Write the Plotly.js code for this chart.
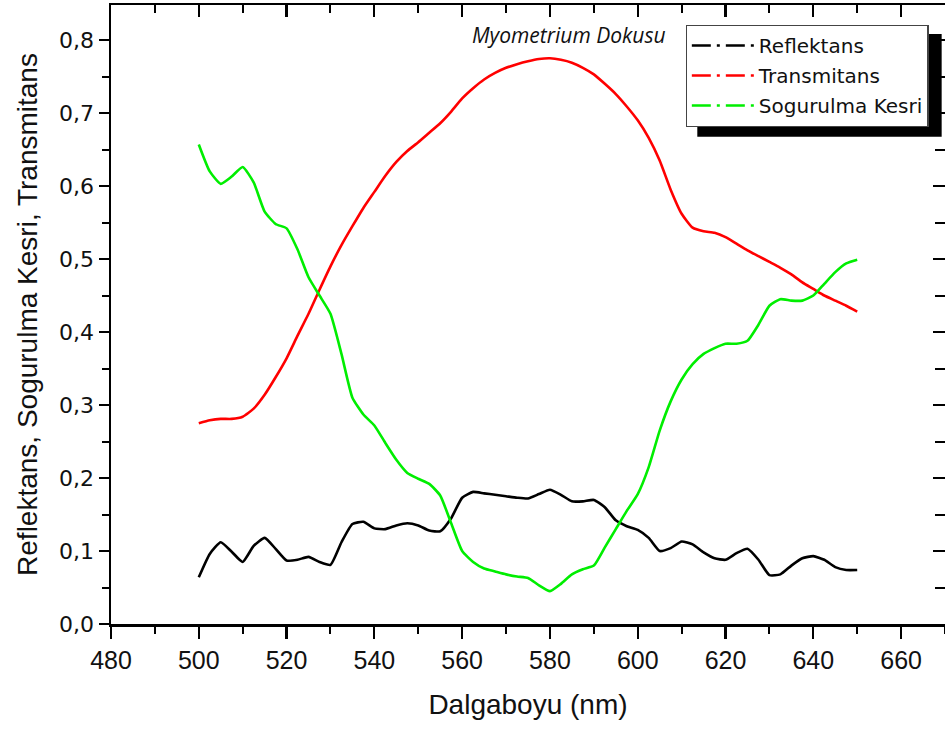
<!DOCTYPE html>
<html>
<head>
<meta charset="utf-8">
<script src="https://cdn.plot.ly/plotly-3.0.1.min.js"></script>
<style>html,body{margin:0;padding:0;background:#fff;}#chart{width:945px;height:734px;}</style>
</head>
<body>
<div id="chart"></div>
<script>
// Wavelength grid (nm)
const wavelength = [500,502.5,505,507.5,510,512.5,515,517.5,520,522.5,525,527.5,530,532.5,535,537.5,540,542.5,545,547.5,550,552.5,555,557.5,560,562.5,565,567.5,570,572.5,575,577.5,580,582.5,585,587.5,590,592.5,595,597.5,600,602.5,605,607.5,610,612.5,615,617.5,620,622.5,625,627.5,630,632.5,635,637.5,640,642.5,645,647.5,650];

const reflektans = [0.064,0.096,0.112,0.099,0.085,0.107,0.118,0.103,0.087,0.088,0.092,0.085,0.081,0.112,0.137,0.140,0.131,0.130,0.135,0.138,0.135,0.128,0.127,0.145,0.173,0.181,0.179,0.177,0.175,0.173,0.172,0.178,0.184,0.177,0.168,0.168,0.170,0.160,0.142,0.134,0.129,0.118,0.100,0.104,0.113,0.109,0.098,0.090,0.088,0.097,0.103,0.088,0.067,0.068,0.080,0.090,0.093,0.088,0.078,0.074,0.074];

const transmitans = [0.275,0.279,0.281,0.281,0.284,0.295,0.314,0.338,0.364,0.395,0.425,0.458,0.490,0.519,0.545,0.570,0.592,0.614,0.633,0.648,0.660,0.673,0.686,0.702,0.720,0.734,0.746,0.755,0.762,0.767,0.771,0.774,0.775,0.773,0.769,0.762,0.753,0.740,0.726,0.709,0.690,0.666,0.635,0.595,0.562,0.543,0.538,0.536,0.530,0.521,0.512,0.504,0.496,0.488,0.479,0.468,0.459,0.450,0.443,0.436,0.428];

const sogurulma = [0.657,0.620,0.603,0.613,0.626,0.605,0.565,0.548,0.542,0.513,0.475,0.450,0.425,0.370,0.310,0.287,0.272,0.248,0.225,0.207,0.199,0.192,0.176,0.138,0.100,0.085,0.076,0.072,0.068,0.065,0.063,0.053,0.045,0.055,0.068,0.075,0.080,0.105,0.130,0.155,0.178,0.215,0.265,0.305,0.335,0.356,0.370,0.378,0.384,0.384,0.388,0.410,0.436,0.445,0.443,0.443,0.450,0.466,0.482,0.494,0.499];

const seriesNames = ["Reflektans", "Transmitans", "Sogurulma Kesri"];
const seriesColors = ["#000000", "#ff0000", "#00ee00"];
const seriesValues = [reflektans, transmitans, sogurulma];

const xTicks = [480,500,520,540,560,580,600,620,640,660];

const traces = [];
seriesValues.forEach((vals, i) => {
  traces.push({
    x: wavelength, y: vals, type: "scatter", mode: "lines",
    name: seriesNames[i], showlegend: false,
    line: {color: seriesColors[i], width: 2.6, shape: "spline", smoothing: 0.5}
  });
});
// legend entries (dash-dot symbol as in the original legend); they also carry the mirror axes
const legendAxes = [["x2", "y"], ["x", "y2"], ["x", "y"]];
seriesValues.forEach((vals, i) => {
  traces.push({
    x: [null], y: [null], type: "scatter", mode: "lines",
    xaxis: legendAxes[i][0], yaxis: legendAxes[i][1],
    name: seriesNames[i], legendgroup: "g" + i, showlegend: true,
    line: {color: seriesColors[i], width: 2.6, dash: "19px,6px,3px,6px"}
  });
});

const axisCommon = {
  showgrid: false, zeroline: false, showline: true,
  linecolor: "#000", linewidth: 2.5, tickcolor: "#000"
};

const layout = {
  width: 945, height: 734,
  margin: {l: 111, r: 0, t: 5, b: 110},
  paper_bgcolor: "#fff", plot_bgcolor: "#fff",
  separators: ", ",
  showlegend: true,
  xaxis: Object.assign({}, axisCommon, {
    range: [480, 670], tickmode: "array", tickvals: xTicks,
    ticks: "outside", ticklen: 12, tickwidth: 2.2,
    minor: {dtick: 10, tick0: 480, ticks: "outside", ticklen: 7, tickwidth: 2, tickcolor: "#000"},
    tickfont: {family: "Liberation Sans, Arial, sans-serif", size: 25, color: "#111"},
    title: {text: "Dalgaboyu (nm)", font: {family: "Liberation Sans, Arial, sans-serif", size: 28, color: "#111"}, standoff: 22}
  }),
  yaxis: Object.assign({}, axisCommon, {
    range: [0, 0.848], dtick: 0.1, tick0: 0, tickformat: ".1f",
    ticks: "outside", ticklen: 10, tickwidth: 2.2,
    minor: {dtick: 0.05, tick0: 0, ticks: "outside", ticklen: 7, tickwidth: 2, tickcolor: "#000"},
    tickfont: {family: "DejaVu Sans, sans-serif", size: 22, color: "#111"},
    title: {text: "Reflektans, Sogurulma Kesri, Transmitans", font: {family: "Liberation Sans, Arial, sans-serif", size: 28, color: "#111"}, standoff: 14}
  }),
  xaxis2: Object.assign({}, axisCommon, {
    overlaying: "x", side: "top", anchor: "y", range: [480, 670],
    tickmode: "array", tickvals: xTicks, showticklabels: false,
    ticks: "inside", ticklen: 12, tickwidth: 2.2,
    minor: {dtick: 10, tick0: 480, ticks: "inside", ticklen: 8, tickwidth: 2, tickcolor: "#000"}
  }),
  yaxis2: Object.assign({}, axisCommon, {
    overlaying: "y", side: "right", anchor: "x", range: [0, 0.848],
    dtick: 0.1, tick0: 0, showticklabels: false,
    ticks: "inside", ticklen: 12, tickwidth: 2.2,
    minor: {dtick: 0.05, tick0: 0, ticks: "inside", ticklen: 10, tickwidth: 2, tickcolor: "#000"}
  }),
  legend: {
    x: 0.689, y: 0.968, xanchor: "left", yanchor: "top",
    bgcolor: "#fff", bordercolor: "#444", borderwidth: 1.2,
    font: {family: "DejaVu Sans, sans-serif", size: 20, color: "#111"},
    itemwidth: 62, tracegroupgap: 1
  },
  shapes: [{
    type: "rect", xref: "paper", yref: "paper", layer: "above",
    x0: 0.703, x1: 0.996, y0: 0.787, y1: 0.953,
    fillcolor: "#000", line: {width: 0}
  }],
  annotations: [{
    text: "<i>Myometrium Dokusu</i>", xref: "paper", yref: "paper",
    x: 0.549, y: 0.952, xanchor: "center", yanchor: "middle", showarrow: false,
    font: {family: "Open Sans, sans-serif", size: 21, color: "#111"}
  }]
};

Plotly.newPlot("chart", traces, layout, {displayModeBar: false, staticPlot: true});
</script>
</body>
</html>
